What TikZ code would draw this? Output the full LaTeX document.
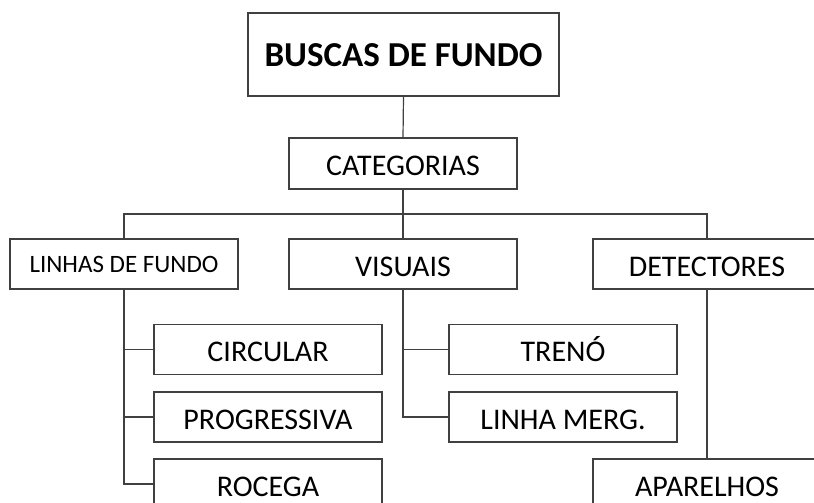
\documentclass[tikz,border=0pt]{standalone}
\usepackage{fontspec}
\setmainfont{Carlito}
\begin{document}
\begin{tikzpicture}[x=1pt,y=-1pt,
  box/.style={draw=black!75,line width=1.2pt,fill=white,minimum width=228pt,minimum height=50pt,inner sep=0pt,font=\fontsize{30}{34}\selectfont,text height=24pt,text depth=0pt},
  small/.style={font=\fontsize{25}{28}\selectfont,text height=17pt},
  conn/.style={draw=black!75,line width=1.2pt}]
\useasboundingbox (0,0) rectangle (814,503);
\clip (0,0) rectangle (814,503);
\node[box,minimum width=311pt,minimum height=83pt,font=\fontsize{35}{40}\selectfont\bfseries,text height=24.5pt] (top) at (403.5,54.5) {BUSCAS DE FUNDO};
\node[box,minimum height=51pt] (cat) at (403,163.5) {CATEGORIAS};
\node[box,small] (lin) at (124,264) {LINHAS DE FUNDO};
\node[box] (vis) at (403,264) {VISUAIS};
\node[box] (det) at (707,264) {DETECTORES};
\node[box] (cir) at (268,349.5) {CIRCULAR};
\node[box] (pro) at (268,417) {PROGRESSIVA};
\node[box] (roc) at (268,484) {ROCEGA};
\node[box] (tre) at (563,349.5) {TRENÓ};
\node[box] (lm) at (563,417) {LINHA MERG.};
\node[box] (apa) at (707,484) {APARELHOS};
\coordinate (hy) at (0,214);
\path[conn] (top.south) -- (cat.north);
\path[conn] (cat.south) -- (vis.north);
\path[conn] (lin.north) -- (lin.north |- hy) -- (det.north |- hy) -- (det.north);
\path[conn] (lin.south) |- (roc.west);
\path[conn] (lin.south |- cir.west) -- (cir.west);
\path[conn] (lin.south |- pro.west) -- (pro.west);
\path[conn] (vis.south) |- (lm.west);
\path[conn] (vis.south |- tre.west) -- (tre.west);
\path[conn] (det.south) -- (apa.north);
\end{tikzpicture}
\end{document}
